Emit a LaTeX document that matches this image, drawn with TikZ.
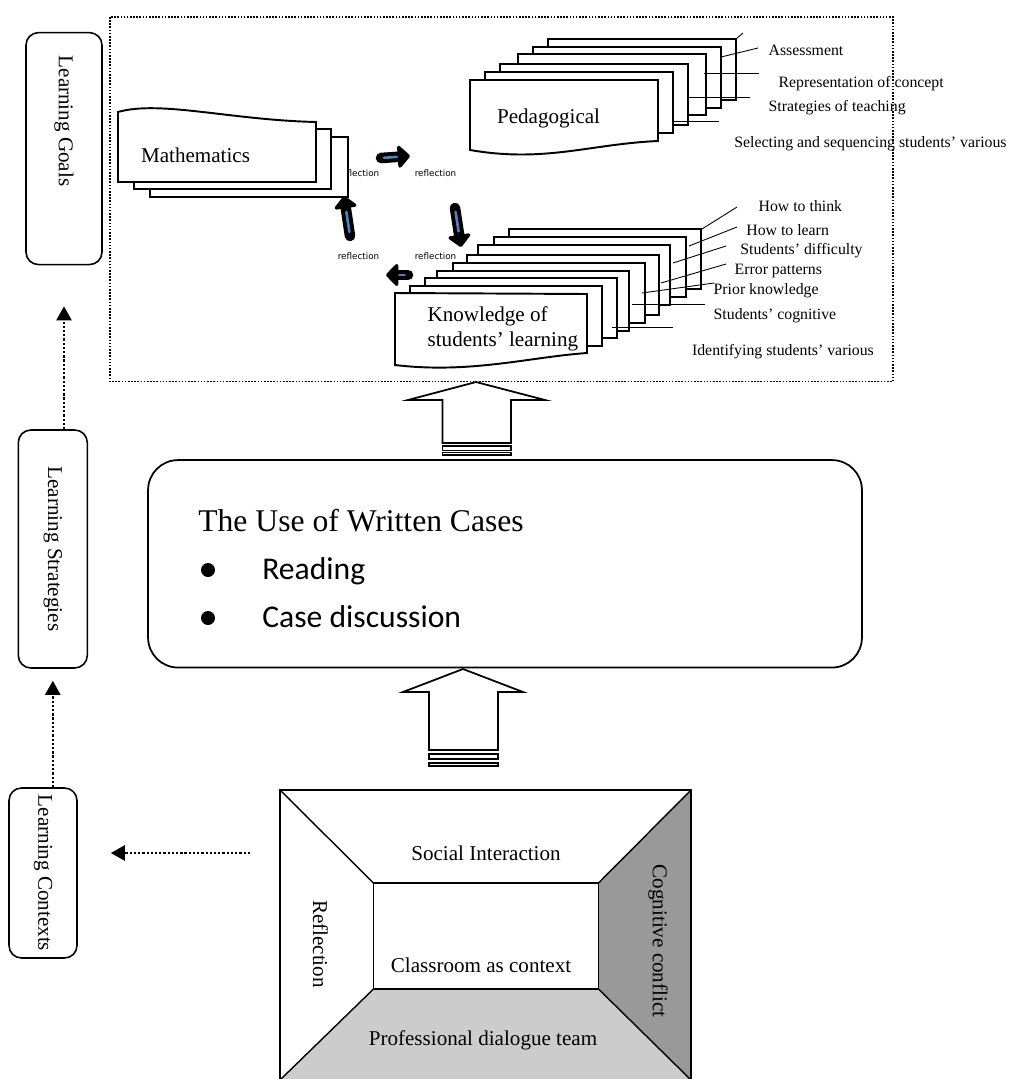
\documentclass[tikz,border=0pt]{standalone}
\usepackage{fontspec}
\setmainfont{Liberation Serif}
\newfontfamily\calibrifont{Carlito}
\newfontfamily\reflfont{DejaVu Sans}
\usetikzlibrary{arrows.meta,calc}
\definecolor{reflblue}{RGB}{79,129,189}
\definecolor{wallgray}{RGB}{153,153,153}
\definecolor{floorgray}{RGB}{204,204,204}
\tikzset{
  sidebox/.style={draw, line width=0.9pt, rounded corners=0.25cm, inner sep=0pt},
  sidelbl/.style={rotate=-90, inner sep=0pt, font=\fontsize{12pt}{14pt}\selectfont},
  usebox/.style={draw, line width=1pt, rounded corners=0.6cm, inner sep=0pt},
  flowarrow/.style={line width=1.4pt, dash pattern=on 1.3pt off 1.1pt, -{Triangle[length=0.28cm,width=0.3cm]}},
  frameline/.style={line width=0.9pt, dash pattern=on 0.9pt off 0.9pt},
  docline/.style={line width=1.1pt, fill=white},
  leader/.style={line width=0.5pt},
  blockarrow/.style={line width=1pt, fill=white},
  roomline/.style={line width=0.8pt},
  lbl/.style={inner sep=0pt, font=\fontsize{12pt}{14.2pt}\selectfont},
  small/.style={inner sep=0pt, anchor=west, font=\fontsize{9pt}{10pt}\selectfont},
  refl/.style={inner sep=0pt, font=\reflfont\fontsize{5pt}{6pt}\selectfont},
  reflarrow/.style={line width=6pt, line cap=round, -{Triangle[round,length=0.26cm,width=0.52cm]}},
  reflinner/.style={reflblue, line width=1.5pt, line cap=round},
  bulletdot/.style={circle, fill, inner sep=0pt, minimum size=0.28cm},
}
\begin{document}
\begin{tikzpicture}[x=0.02cm, y=-0.02cm]
\useasboundingbox (0,0) rectangle (1010,1079);

% goals frame
\draw[frameline] (110,17) rectangle (893,381.7);

% side boxes
\node[sidebox, minimum width=1.52cm, minimum height=4.64cm, label={[yshift=0.55cm, sidelbl]center:Learning Goals}] (goals) at (64,148.6) {};
\node[sidebox, minimum width=1.38cm, minimum height=4.76cm, label={[sidelbl]center:Learning Strategies}] (strat) at (52.8,549) {};
\node[sidebox, minimum width=1.36cm, minimum height=3.4cm, label={[sidelbl]center:Learning Contexts}] (ctx) at (43,873) {};
\coordinate (roomsrc) at (250,853);
\draw[flowarrow, shorten >=0.82cm] (strat.north -| goals.south) -- (goals.south);
\draw[flowarrow, shorten >=0.24cm] (ctx.north -| strat.south) -- (strat.south);
\draw[flowarrow, shorten >=0.66cm] (roomsrc) -- (roomsrc -| ctx.east);

% mathematics
\node[refl] (refl1) at (358.5,173.3) {reflection};
\filldraw[docline] (150,137) rectangle ++(198,60);
\filldraw[docline] (134,129) rectangle ++(197,60);
\filldraw[docline] (118,112) .. controls (160,100) and (230,120) .. (316,122) -- (316,182) -- (118,182) -- cycle;
\node[lbl, anchor=west] (math) at (140.7,155) {Mathematics};

% pedagogical
\filldraw[docline] (548.3,39) rectangle ++(188,61);
\filldraw[docline] (533.3,46.7) rectangle ++(188,61);
\filldraw[docline] (518,54.3) rectangle ++(188,61);
\filldraw[docline] (500,64) rectangle ++(188,61);
\filldraw[docline] (485,71.7) rectangle ++(188,61);
\filldraw[docline] (470,80) -- (658,80) -- (658,141) .. controls (590,144) and (545,163) .. (470,150) -- cycle;
\node[lbl, anchor=west] (peda) at (496.7,118.3) {Pedagogical};
\draw[leader] (736,39) -- (743,33);
\draw[leader] (721,57) -- (758,48);
\draw[leader] (704,73) -- (759,73);
\draw[leader] (688,97) -- (750,97);
\draw[leader] (673,121) -- (719,121);
\node[small] (assess) at (768.3,50) {Assessment};
\node[small] (reprc) at (778.3,83.3) {Representation of concept};
\node[small] (stratt) at (768.3,107.3) {Strategies of teaching};
\node[small] (select) at (734,143.7) {Selecting and sequencing students’ various};

% knowledge of students' learning
\filldraw[docline] (509,229.3) rectangle ++(192,60);
\filldraw[docline] (494,236.7) rectangle ++(192,60);
\filldraw[docline] (478.3,245) rectangle ++(192,60);
\filldraw[docline] (467.3,255) rectangle ++(192,60);
\filldraw[docline] (452.7,262.7) rectangle ++(192,60);
\filldraw[docline] (437.3,270.7) rectangle ++(192,60);
\filldraw[docline] (425,278.3) rectangle ++(192,60);
\filldraw[docline] (410,285.7) rectangle ++(192,60);
\filldraw[docline] (395,293) -- (587,294) -- (587,353) .. controls (530,357) and (470,374) .. (395,365) -- cycle;
\node[lbl, anchor=west, align=left] (know) at (427.3,329) {Knowledge of\\students’ learning};
\draw[leader] (702,229) -- (737,207);
\draw[leader] (689,246) -- (737,227);
\draw[leader] (673,263) -- (726,246);
\draw[leader] (661,283) -- (726,264);
\draw[leader] (642,293) -- (714,283);
\draw[leader] (632,304) -- (705,304);
\draw[leader] (612,327) -- (673,327);
\node[small] (think) at (758.3,206) {How to think};
\node[small] (learn) at (746,230) {How to learn};
\node[small] (diffic) at (740,251) {Students’ difficulty};
\node[small] (errpat) at (734.3,270.7) {Error patterns};
\node[small] (prior) at (713.3,291) {Prior knowledge};
\node[small] (cognit) at (713.3,316) {Students’ cognitive};
\node[small] (ident) at (691.7,351.7) {Identifying students’ various};

% reflection cycle
\node[refl] (refl2) at (435.5,173.3) {reflection};
\node[refl] (refl3) at (358.5,256.7) {reflection};
\node[refl] (refl4) at (435.5,256.7) {reflection};
\coordinate (ra1) at (381,158);
\coordinate (ra2) at (410,156);
\coordinate (rb1) at (455,208);
\coordinate (rb2) at (461,247);
\coordinate (rc1) at (350,236);
\coordinate (rc2) at (344,196);
\coordinate (rd1) at (408,275);
\coordinate (rd2) at (386,275);
\draw[reflarrow] (ra1) -- (ra2);
\draw[reflarrow] (rb1) -- (rb2);
\draw[reflarrow] (rc1) -- (rc2);
\draw[reflarrow] (rd1) -- (rd2);
\draw[reflinner] ($(ra1)!0.1!(ra2)$) -- ($(ra1)!0.55!(ra2)$);
\draw[reflinner] ($(rb1)!0.1!(rb2)$) -- ($(rb1)!0.6!(rb2)$);
\draw[reflinner] ($(rc1)!0.1!(rc2)$) -- ($(rc1)!0.6!(rc2)$);
\draw[reflinner] ($(rd1)!0.15!(rd2)$) -- ($(rd1)!0.4!(rd2)$);

% block arrows
\filldraw[blockarrow] (476,382) -- (545,400) -- (511,400) -- (511,443) -- (442.5,443) -- (442.5,400) -- (408,400) -- cycle;
\draw[blockarrow] (442.5,446) rectangle (511,450.5);
\draw[blockarrow] (442.5,452.5) rectangle (511,455);
\filldraw[blockarrow] (463,669) -- (523,692) -- (498,692) -- (498,750) -- (429,750) -- (429,692) -- (403,692) -- cycle;
\draw[blockarrow] (429,754) rectangle (498,759);
\draw[blockarrow] (429,762.7) rectangle (498,766);

% the use of written cases
\node[usebox, minimum width=14.28cm, minimum height=4.15cm] (usecase) at (505,563.8) {};
\node[anchor=base west, inner sep=0pt, font=\fontsize{18pt}{20pt}\selectfont] (usetitle) at (198,531) {The Use of Written Cases};
\node[bulletdot] (dot1) at (208,570) {};
\node[bulletdot] (dot2) at (208,618) {};
\node[anchor=base west, inner sep=0pt, font=\calibrifont\fontsize{18pt}{20pt}\selectfont] (reading) at (262,579) {Reading};
\node[anchor=base west, inner sep=0pt, font=\calibrifont\fontsize{18pt}{20pt}\selectfont] (casedisc) at (262,627) {Case discussion};

% classroom room
\fill[floorgray] (280,1080) -- (373.5,989) -- (598.5,989) -- (691,1080) -- cycle;
\fill[wallgray] (691,790) -- (598.5,883) -- (598.5,989) -- (691,1080) -- cycle;
\draw[roomline] (280,790) rectangle (691,1080);
\draw[roomline] (373.5,883) rectangle (598.5,989);
\draw[roomline] (280,790) -- (373.5,883);
\draw[roomline] (691,790) -- (598.5,883);
\draw[roomline] (280,1080) -- (373.5,989);
\draw[roomline] (691,1080) -- (598.5,989);
\node[lbl] (social) at (486,853) {Social Interaction};
\node[lbl] (classr) at (481,965) {Classroom as context};
\node[lbl] (profdt) at (483,1040) {Professional dialogue team};
\node[lbl, rotate=-90] (reflct) at (320.5,944) {Reflection};
\node[lbl, rotate=-90] (cogcon) at (658,941) {Cognitive conflict};
\end{tikzpicture}
\end{document}
